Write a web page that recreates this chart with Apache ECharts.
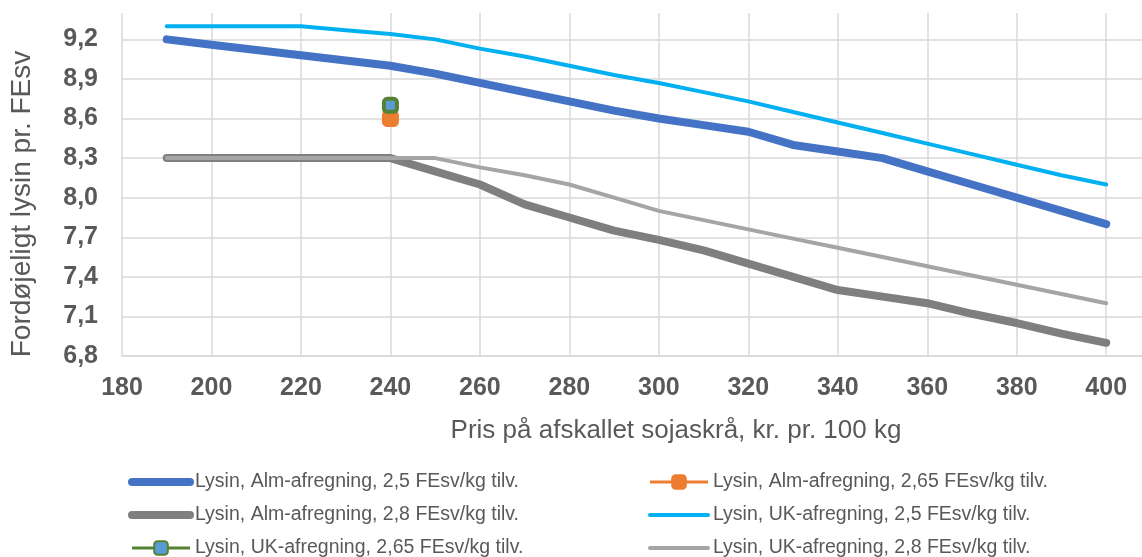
<!DOCTYPE html>
<html><head><meta charset="utf-8">
<script src="https://cdn.jsdelivr.net/npm/echarts@6/dist/echarts.min.js"></script>
<style>html,body{margin:0;padding:0;background:#fff}#c{width:1142px;height:557px}</style>
</head><body><div id="c"></div>
<script>
// ---- data ----
const prices = [190,200,210,220,230,240,250,260,270,280,290,300,310,320,330,340,350,360,370,380,390,400];
const almA25 = [9.2,9.16,9.12,9.08,9.04,9.0,8.94,8.87,8.8,8.73,8.66,8.6,8.55,8.5,8.4,8.35,8.3,8.2,8.1,8.0,7.9,7.8];
const almA28 = [8.3,8.3,8.3,8.3,8.3,8.3,8.2,8.1,7.95,7.85,7.75,7.68,7.6,7.5,7.4,7.3,7.25,7.2,7.12,7.05,6.97,6.9];
const ukA25  = [9.3,9.3,9.3,9.3,9.27,9.24,9.2,9.13,9.07,9.0,8.93,8.87,8.8,8.73,8.65,8.57,8.49,8.41,8.33,8.25,8.17,8.1];
const ukA28  = [8.3,8.3,8.3,8.3,8.3,8.3,8.3,8.23,8.17,8.1,8.0,7.9,7.83,7.76,7.69,7.62,7.55,7.48,7.41,7.34,7.27,7.2];
const markerPrice = [240];
const alm265 = [8.6];
const uk265 = [8.7];
const seriesNames = [
  'Lysin, Alm-afregning, 2,5 FEsv/kg tilv.',
  'Lysin, Alm-afregning, 2,65 FEsv/kg tilv.',
  'Lysin, Alm-afregning, 2,8 FEsv/kg tilv.',
  'Lysin, UK-afregning, 2,5 FEsv/kg tilv.',
  'Lysin, UK-afregning, 2,65 FEsv/kg tilv.',
  'Lysin, UK-afregning, 2,8 FEsv/kg tilv.'
];
const xTitle = 'Pris på afskallet sojaskrå, kr. pr. 100 kg';
const yTitle = 'Fordøjeligt lysin pr. FEsv';

// ---- chart ----
const FONT = 'Liberation Sans, Arial, Helvetica, sans-serif';
const GRID = '#d9d9d9';
const TXT = '#595959';
const CLEAR = 'rgba(0,0,0,0)';
function pairs(xs, ys){ return xs.map((p,i)=>[p, ys[i]]); }

const chart = echarts.init(document.getElementById('c'), null, {renderer:'canvas'});
const legendCommon = {
  orient:'vertical', top:472, height:100, padding:0, itemWidth:58, itemHeight:17, itemGap:13, itemTextGap:2,
  textStyle:{color:TXT, fontSize:19.5, fontFamily:FONT}
};
const option = {
  animation:false,
  backgroundColor:'#fff',
  grid:{left:122, right:0, top:13, bottom:201, containLabel:false},
  xAxis:{
    type:'value', min:180, max:408, interval:20,
    axisLine:{show:true, lineStyle:{color:GRID, width:1.5}},
    axisTick:{show:false},
    splitLine:{show:true, showMaxLine:false, lineStyle:{color:GRID, width:1.5}},
    axisLabel:{showMaxLabel:false, margin:20, color:TXT, fontSize:25, fontWeight:'bold', fontFamily:FONT},
    name:xTitle, nameLocation:'middle', nameGap:62,
    nameTextStyle:{color:TXT, fontSize:26, fontFamily:FONT, padding:[0,0,0,88]}
  },
  yAxis:{
    type:'value', min:6.8, max:9.4, interval:0.1,
    axisLine:{show:false}, axisTick:{show:false},
    splitLine:{show:true, showMaxLine:false, lineStyle:{color:[GRID, CLEAR, CLEAR], width:1.5}},
    axisLabel:{
      margin:24, color:TXT, fontSize:25, fontWeight:'bold', fontFamily:FONT,
      formatter:function(v){ return Math.round(v*10)%3===2 ? v.toFixed(1).replace('.', ',') : ''; }
    },
    name:yTitle, nameLocation:'middle', nameGap:86, nameRotate:90,
    nameTextStyle:{color:TXT, fontSize:28, fontFamily:FONT, padding:[0,39,0,0]}
  },
  legend:[
    Object.assign({left:128, data:[
      {name:seriesNames[0], itemStyle:{opacity:0}, lineStyle:{width:8, cap:'round'}},
      {name:seriesNames[2], itemStyle:{opacity:0}, lineStyle:{width:8, cap:'round'}},
      {name:seriesNames[4], lineStyle:{width:3}}
    ]}, legendCommon),
    Object.assign({left:648, data:[
      {name:seriesNames[1], lineStyle:{width:3}},
      {name:seriesNames[3], itemStyle:{opacity:0}, lineStyle:{width:4}},
      {name:seriesNames[5], itemStyle:{opacity:0}, lineStyle:{width:4}}
    ]}, legendCommon)
  ],
  series:[
    {name:seriesNames[0], type:'line', data:pairs(prices, almA25), symbol:'none',
     lineStyle:{color:'#4472C4', width:8, cap:'round', join:'round'}, itemStyle:{color:'#4472C4'}},
    {name:seriesNames[1], type:'line', data:pairs(markerPrice, alm265), symbol:'roundRect', symbolSize:13,
     lineStyle:{color:'#ED7D31', width:3}, itemStyle:{color:'#ED7D31', borderColor:'#ED7D31', borderWidth:4}},
    {name:seriesNames[2], type:'line', data:pairs(prices, almA28), symbol:'none',
     lineStyle:{color:'#7F7F7F', width:8, cap:'round', join:'round'}, itemStyle:{color:'#7F7F7F'}},
    {name:seriesNames[3], type:'line', data:pairs(prices, ukA25), symbol:'none',
     lineStyle:{color:'#00B0F0', width:4, cap:'round', join:'round'}, itemStyle:{color:'#00B0F0'}},
    {name:seriesNames[4], type:'line', data:pairs(markerPrice, uk265), symbol:'roundRect', symbolSize:13,
     lineStyle:{color:'#548235', width:3}, itemStyle:{color:'#5B9BD5', borderColor:'#548235', borderWidth:4}},
    {name:seriesNames[5], type:'line', data:pairs(prices, ukA28), symbol:'none',
     lineStyle:{color:'#A5A5A5', width:4, cap:'round', join:'round'}, itemStyle:{color:'#A5A5A5'}}
  ]
};
chart.setOption(option);
</script>
</body></html>
